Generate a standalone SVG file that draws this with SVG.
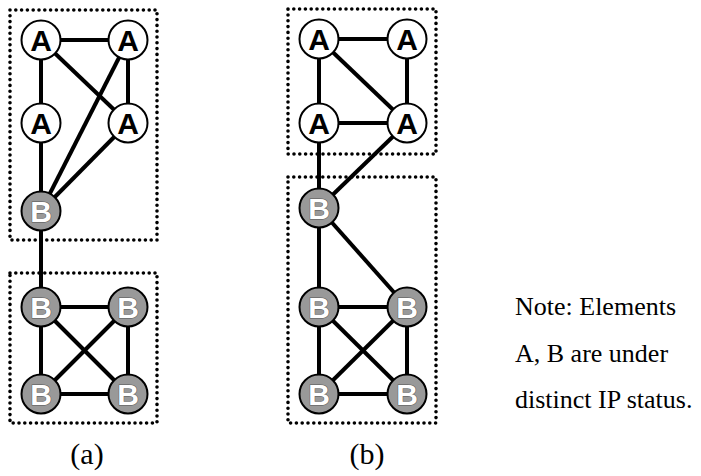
<svg xmlns="http://www.w3.org/2000/svg" width="701" height="476" viewBox="0 0 701 476">
<style>
.box{fill:none;stroke:#000;stroke-width:3.6;stroke-dasharray:0 5.8;stroke-linecap:round}
.e{stroke:#000;stroke-width:4;fill:none}
.na circle{fill:#fff;stroke:#000;stroke-width:2}
.nb circle{fill:#999;stroke:#000;stroke-width:2}
.na text{font-family:"Liberation Sans",Arial,sans-serif;font-weight:bold;font-size:30px;text-anchor:middle;fill:#000}
.nb text{font-family:"Liberation Sans",Arial,sans-serif;font-weight:bold;font-size:30px;text-anchor:middle;fill:#fff;stroke:#555;stroke-width:1;paint-order:stroke}
.lbl{font-family:"Liberation Serif","Times New Roman",serif;font-size:30px;text-anchor:middle;fill:#000}
.note{font-family:"Liberation Serif","Times New Roman",serif;font-size:26px;fill:#000}
</style>
<g id="boxes">
<rect class="box" x="10" y="10" width="147" height="230"/>
<rect class="box" x="10" y="273" width="147" height="150"/>
<rect class="box" x="288" y="9" width="148" height="145"/>
<rect class="box" x="288" y="177" width="148" height="246"/>
</g>
<g id="connectors" class="e">
<!-- panel a -->
<line x1="41" y1="40" x2="128" y2="40"/>
<line x1="41" y1="40" x2="41" y2="123"/>
<line x1="41" y1="40" x2="128" y2="123"/>
<line x1="128" y1="40" x2="128" y2="123"/>
<line x1="128" y1="40" x2="41" y2="211"/>
<line x1="41" y1="123" x2="41" y2="211"/>
<line x1="128" y1="123" x2="41" y2="211"/>
<line x1="41" y1="211" x2="41" y2="307"/>
<line x1="41" y1="307" x2="128" y2="307"/>
<line x1="41" y1="307" x2="41" y2="394"/>
<line x1="128" y1="307" x2="128" y2="394"/>
<line x1="41" y1="394" x2="128" y2="394"/>
<line x1="41" y1="307" x2="128" y2="394"/>
<line x1="128" y1="307" x2="41" y2="394"/>
<!-- panel b -->
<line x1="319" y1="39" x2="407" y2="39"/>
<line x1="319" y1="39" x2="319" y2="123"/>
<line x1="319" y1="39" x2="407" y2="123"/>
<line x1="407" y1="39" x2="407" y2="123"/>
<line x1="319" y1="123" x2="407" y2="123"/>
<line x1="319" y1="123" x2="319" y2="208"/>
<line x1="407" y1="123" x2="319" y2="208"/>
<line x1="319" y1="208" x2="319" y2="307"/>
<line x1="319" y1="208" x2="407" y2="307"/>
<line x1="319" y1="307" x2="407" y2="307"/>
<line x1="319" y1="307" x2="319" y2="394"/>
<line x1="407" y1="307" x2="407" y2="394"/>
<line x1="319" y1="394" x2="407" y2="394"/>
<line x1="319" y1="307" x2="407" y2="394"/>
<line x1="407" y1="307" x2="319" y2="394"/>
</g>
<g id="a-A1" class="na"><circle cx="41" cy="40" r="19.5"/><text x="41" y="50.5">A</text></g>
<g id="a-A2" class="na"><circle cx="128" cy="40" r="19.5"/><text x="128" y="50.5">A</text></g>
<g id="a-A3" class="na"><circle cx="41" cy="123" r="19.5"/><text x="41" y="133.5">A</text></g>
<g id="a-A4" class="na"><circle cx="128" cy="123" r="19.5"/><text x="128" y="133.5">A</text></g>
<g id="a-B1" class="nb"><circle cx="41" cy="211" r="19.5"/><text x="41" y="221.5">B</text></g>
<g id="a-B2" class="nb"><circle cx="41" cy="307" r="19.5"/><text x="41" y="317.5">B</text></g>
<g id="a-B3" class="nb"><circle cx="128" cy="307" r="19.5"/><text x="128" y="317.5">B</text></g>
<g id="a-B4" class="nb"><circle cx="41" cy="394" r="19.5"/><text x="41" y="404.5">B</text></g>
<g id="a-B5" class="nb"><circle cx="128" cy="394" r="19.5"/><text x="128" y="404.5">B</text></g>
<g id="b-A1" class="na"><circle cx="319" cy="39" r="19.5"/><text x="319" y="49.5">A</text></g>
<g id="b-A2" class="na"><circle cx="407" cy="39" r="19.5"/><text x="407" y="49.5">A</text></g>
<g id="b-A3" class="na"><circle cx="319" cy="123" r="19.5"/><text x="319" y="133.5">A</text></g>
<g id="b-A4" class="na"><circle cx="407" cy="123" r="19.5"/><text x="407" y="133.5">A</text></g>
<g id="b-B1" class="nb"><circle cx="319" cy="208" r="19.5"/><text x="319" y="218.5">B</text></g>
<g id="b-B2" class="nb"><circle cx="319" cy="307" r="19.5"/><text x="319" y="317.5">B</text></g>
<g id="b-B3" class="nb"><circle cx="407" cy="307" r="19.5"/><text x="407" y="317.5">B</text></g>
<g id="b-B4" class="nb"><circle cx="319" cy="394" r="19.5"/><text x="319" y="404.5">B</text></g>
<g id="b-B5" class="nb"><circle cx="407" cy="394" r="19.5"/><text x="407" y="404.5">B</text></g>
<g id="labels">
<text class="lbl" x="87" y="464">(a)</text>
<text class="lbl" x="367" y="464">(b)</text>
<text class="note" x="515" y="315">Note: Elements</text>
<text class="note" x="515" y="362">A, B are under</text>
<text class="note" x="515" y="408">distinct IP status.</text>
</g>
</svg>
